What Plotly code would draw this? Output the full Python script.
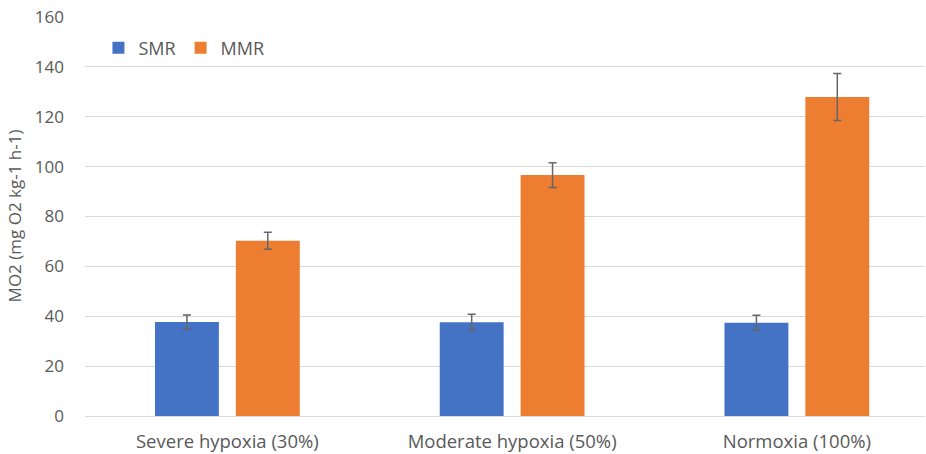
import plotly.graph_objects as go

categories = ["Severe hypoxia (30%)", "Moderate hypoxia (50%)", "Normoxia (100%)"]
smr = [37.7, 37.6, 37.4]
smr_err = [2.8, 3.2, 3.0]
mmr = [70.3, 96.6, 127.9]
mmr_err = [3.4, 5.0, 9.4]

font = "Open Sans"
gray = "#595959"

fig = go.Figure()
fig.add_bar(x=categories, y=smr, name="SMR", marker=dict(color="#4472C4", line=dict(width=0)),
            error_y=dict(type="data", array=smr_err, color="#666666", thickness=1.5, width=4))
fig.add_bar(x=categories, y=mmr, name="MMR", marker=dict(color="#ED7D31", line=dict(width=0)),
            error_y=dict(type="data", array=mmr_err, color="#666666", thickness=1.5, width=4))

fig.update_layout(
    width=926, height=454,
    margin=dict(l=85, r=1, t=16, b=38),
    plot_bgcolor="white", paper_bgcolor="white",
    barmode="group", bargap=0.432, bargroupgap=0.21,
    font=dict(family=font, size=17, color=gray),
    legend=dict(orientation="h", x=0.016, y=0.92, xanchor="left", yanchor="middle",
                font=dict(size=18, color=gray), bgcolor="rgba(0,0,0,0)", itemwidth=30,
                traceorder="normal"),
    showlegend=True,
)
fig.update_xaxes(range=[-0.5, 2.45], showgrid=False, showline=False, ticks="", automargin=False,
                 tickfont=dict(size=18.5, color=gray), ticklabelstandoff=12)
fig.update_yaxes(range=[0, 160.4], tickvals=[0, 20, 40, 60, 80, 100, 120, 140, 160],
                 showgrid=True, gridcolor="#D9D9D9", gridwidth=1,
                 zeroline=True, zerolinecolor="#D9D9D9", zerolinewidth=1, showline=False,
                 automargin=False, ticklabeloverflow="allow",
                 ticks="", tickfont=dict(size=17, color=gray), ticklabelstandoff=20,
                 title=dict(text="MO2 (mg O2 kg-1 h-1)", font=dict(size=17, color=gray), standoff=8))

fig.write_html("out.html", config={"displayModeBar": False},
               post_script="document.body.style.margin='0';")
